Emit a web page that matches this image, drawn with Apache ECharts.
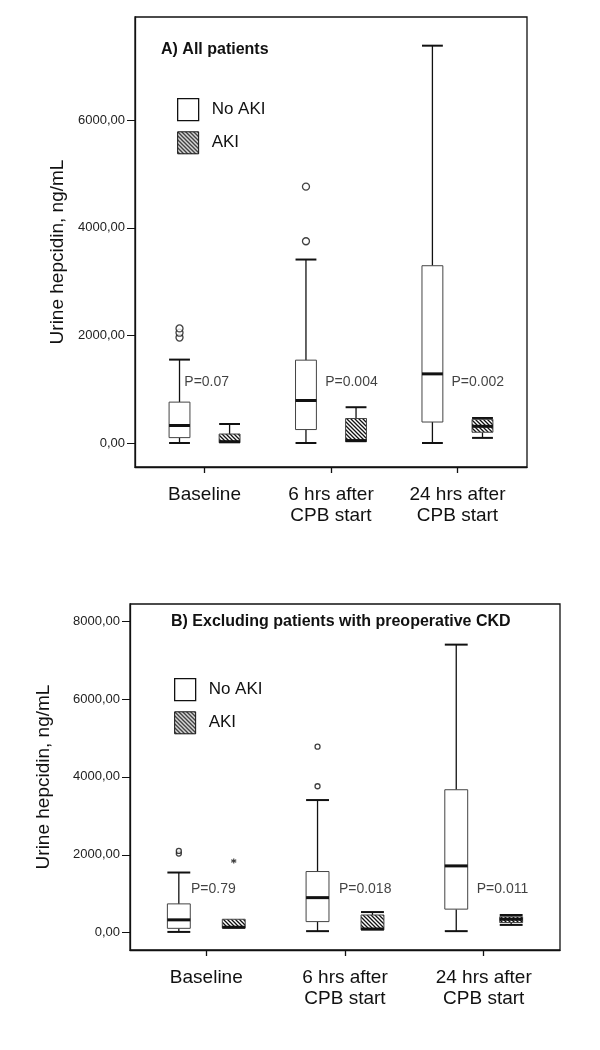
<!DOCTYPE html>
<html>
<head>
<meta charset="utf-8">
<script src="https://cdn.jsdelivr.net/npm/echarts@6/dist/echarts.min.js"></script>
<style>html,body{margin:0;padding:0;background:#fff}#c{width:600px;height:1050px}</style>
</head>
<body>
<div id="c"></div>
<script>
// ---- data ----
const categories = ['Baseline', '6 hrs after\nCPB start', '24 hrs after\nCPB start'];
const groups = ['No AKI', 'AKI'];
// each row: [min, Q1, median, Q3, max]
const boxTopNoAKI = [[0, 100, 325, 760, 1550], [0, 250, 790, 1540, 3410], [0, 390, 1285, 3295, 7385]];
const boxTopAKI   = [[0, 5, 25, 167, 353], [20, 25, 45, 455, 665], [95, 200, 310, 440, 465]];
const outTopNoAKI = [[0, 1960], [0, 2050], [0, 2130], [1, 3750], [1, 4765]];
const boxBotNoAKI = [[20, 112, 330, 740, 1545], [40, 285, 900, 1570, 3405], [40, 605, 1715, 3670, 7395]];
const boxBotAKI   = [[112, 118, 140, 345, 345], [65, 72, 95, 455, 530], [200, 260, 345, 410, 455]];
const outBotNoAKI = [[0, 2030], [0, 2100], [1, 3760], [1, 4775]];
const extBotAKI   = [[0, 1840]];
const pTextTop = ['P=0.07', 'P=0.004', 'P=0.002'];
const pTextBot = ['P=0.79', 'P=0.018', 'P=0.011'];
const yTicksTop = [0, 2000, 4000, 6000];
const yTicksBot = [0, 2000, 4000, 6000, 8000];
const titleTop = 'A) All patients';
const titleBot = 'B) Excluding patients with preoperative CKD';
const yName = 'Urine hepcidin, ng/mL';

// ---- layout helpers (not data) ----
const OFF = 0.198, BOXW = 0.165;
const pAnchorTop = [[-0.16, 1134], [-0.046, 1134], [-0.047, 1134]];
const pAnchorBot = [[-0.11, 1122], [-0.044, 1122], [-0.05, 1122]];
const FONT = 'Liberation Sans, Arial, sans-serif';

function makeHatch() {
  const c = document.createElement('canvas');
  c.width = 4; c.height = 4;
  const g = c.getContext('2d');
  g.fillStyle = '#fff'; g.fillRect(0, 0, 4, 4);
  g.strokeStyle = '#111'; g.lineWidth = 1.3;
  g.beginPath();
  g.moveTo(-1, -1); g.lineTo(5, 5);
  g.moveTo(3, -1); g.lineTo(5, 1);
  g.moveTo(-1, 3); g.lineTo(1, 5);
  g.stroke();
  return c;
}
const hatch = { image: makeHatch(), repeat: 'repeat' };

function render(offset, hatched) {
  return function (params, api) {
    const x = api.value(0) + offset;
    const pMin = api.coord([x, api.value(1)]);
    const pQ1 = api.coord([x, api.value(2)]);
    const pMed = api.coord([x, api.value(3)]);
    const pQ3 = api.coord([x, api.value(4)]);
    const pMax = api.coord([x, api.value(5)]);
    const w = api.size([BOXW, 0], [x, 0])[0];
    const cx = pMin[0];
    const ln = (x1, y1, x2, y2, lw) => ({ type: 'line', shape: { x1, y1, x2, y2 }, style: { stroke: '#111', lineWidth: lw } });
    const children = [];
    if (pMax[1] < pQ3[1] - 0.5) { children.push(ln(cx, pMax[1], cx, pQ3[1], 1.3)); children.push(ln(cx - w / 2, pMax[1], cx + w / 2, pMax[1], 2)); }
    if (pMin[1] > pQ1[1] + 0.5) { children.push(ln(cx, pQ1[1], cx, pMin[1], 1.3)); children.push(ln(cx - w / 2, pMin[1], cx + w / 2, pMin[1], 2)); }
    children.push({ type: 'rect', shape: { x: cx - w / 2, y: pQ3[1], width: w, height: pQ1[1] - pQ3[1] },
      style: { fill: hatched ? hatch : '#fff', stroke: '#444', lineWidth: 1 } });
    children.push(ln(cx - w / 2, pMed[1], cx + w / 2, pMed[1], 3));
    return { type: 'group', children };
  };
}

function boxSeries(name, rows, offset, hatched, gi) {
  return {
    type: 'custom', name, xAxisIndex: gi, yAxisIndex: gi, z: 3,
    renderItem: render(offset, hatched),
    encode: { x: 0, y: [1, 2, 3, 4, 5] },
    data: rows.map((r, i) => [i].concat(r))
  };
}
function outlierSeries(pts, offset, gi, size) {
  return {
    type: 'scatter', xAxisIndex: gi, yAxisIndex: gi, symbol: 'circle', symbolSize: size, z: 4,
    itemStyle: { color: '#fff', borderColor: '#111', borderWidth: 1.3 },
    data: pts.map(p => [p[0] + offset, p[1]])
  };
}
function pSeries(texts, anchors, gi) {
  return {
    type: 'scatter', xAxisIndex: gi, yAxisIndex: gi, symbolSize: 0, z: 5,
    itemStyle: { color: 'transparent' },
    label: { show: true, position: 'right', distance: 0, color: '#111', fontSize: 14, fontFamily: FONT,
      formatter: p => texts[p.dataIndex] },
    data: texts.map((t, i) => [i + anchors[i][0], anchors[i][1]])
  };
}

const fmtY = v => v.toFixed(2).replace('.', ',');
function xAxis(gi) {
  return {
    type: 'value', gridIndex: gi, min: -0.55, max: 2.55,
    axisLine: { onZero: false, lineStyle: { color: '#111', width: 1.3 } },
    axisTick: { customValues: [0, 1, 2], length: 6, lineStyle: { color: '#111', width: 1.3 } },
    axisLabel: { customValues: [0, 1, 2], formatter: v => categories[Math.round(v)], fontSize: 19, lineHeight: 21,
      color: '#111', fontFamily: FONT, margin: 17 },
    splitLine: { show: false }
  };
}
function yAxis(gi, min, max, ticks, gap, pad) {
  return {
    type: 'value', gridIndex: gi, min, max,
    name: yName, nameLocation: 'middle', nameRotate: 90, nameGap: gap,
    nameTextStyle: { fontSize: 19, color: '#111', fontFamily: FONT, padding: pad },
    axisLine: { onZero: false, lineStyle: { color: '#111', width: 1.3 } },
    axisTick: { customValues: ticks, length: 8, lineStyle: { color: '#111', width: 1 } },
    axisLabel: { customValues: ticks, formatter: fmtY, fontSize: 13, color: '#222', fontFamily: FONT, margin: 10 },
    splitLine: { show: false }
  };
}
function legend(left, top) {
  return {
    left, top, orient: 'vertical', padding: 0, itemGap: 10, itemWidth: 21, itemHeight: 22,
    selectedMode: false,
    textStyle: { fontSize: 17, color: '#111', fontFamily: FONT, padding: [0, 0, 0, 8] },
    data: [
      { name: 'No AKI', icon: 'rect', itemStyle: { color: '#fff', borderColor: '#111', borderWidth: 1.3 } },
      { name: 'AKI', icon: 'rect', itemStyle: { color: hatch, borderColor: '#111', borderWidth: 1 } }
    ]
  };
}

const chart = echarts.init(document.getElementById('c'), null, { renderer: 'canvas' });
chart.setOption({
  animation: false,
  backgroundColor: '#fff',
  textStyle: { fontFamily: FONT },
  title: [
    { text: titleTop, left: 161, top: 42, padding: 0, textStyle: { fontSize: 16, fontWeight: 'bold', color: '#111', fontFamily: FONT } },
    { text: titleBot, left: 171, top: 614, padding: 0, textStyle: { fontSize: 16, fontWeight: 'bold', color: '#111', fontFamily: FONT } }
  ],
  legend: [legend(177, 98), legend(174, 678)],
  grid: [
    { left: 135, top: 17, width: 392, height: 450, show: true, borderColor: '#111', borderWidth: 1.3, backgroundColor: 'transparent' },
    { left: 130, top: 604, width: 430, height: 346, show: true, borderColor: '#111', borderWidth: 1.3, backgroundColor: 'transparent' }
  ],
  xAxis: [xAxis(0), xAxis(1)],
  yAxis: [yAxis(0, -446, 7918, yTicksTop, 67, [0, 20, 0, 0]), yAxis(1, -444, 8438, yTicksBot, 77, 0)],
  series: [
    boxSeries('No AKI', boxTopNoAKI, -OFF, false, 0),
    boxSeries('AKI', boxTopAKI, OFF, true, 0),
    outlierSeries(outTopNoAKI, -OFF, 0, 7),
    pSeries(pTextTop, pAnchorTop, 0),
    boxSeries('No AKI', boxBotNoAKI, -OFF, false, 1),
    boxSeries('AKI', boxBotAKI, OFF, true, 1),
    outlierSeries(outBotNoAKI, -OFF, 1, 5),
    {
      type: 'scatter', xAxisIndex: 1, yAxisIndex: 1, z: 4,
      symbol: 'path://M0,-5L0,5M-4.33,-2.5L4.33,2.5M-4.33,2.5L4.33,-2.5', symbolSize: 5,
      itemStyle: { color: 'none', borderColor: '#111', borderWidth: 1.2 },
      data: extBotAKI.map(p => [p[0] + OFF, p[1]])
    },
    pSeries(pTextBot, pAnchorBot, 1)
  ]
});
</script>
</body>
</html>
